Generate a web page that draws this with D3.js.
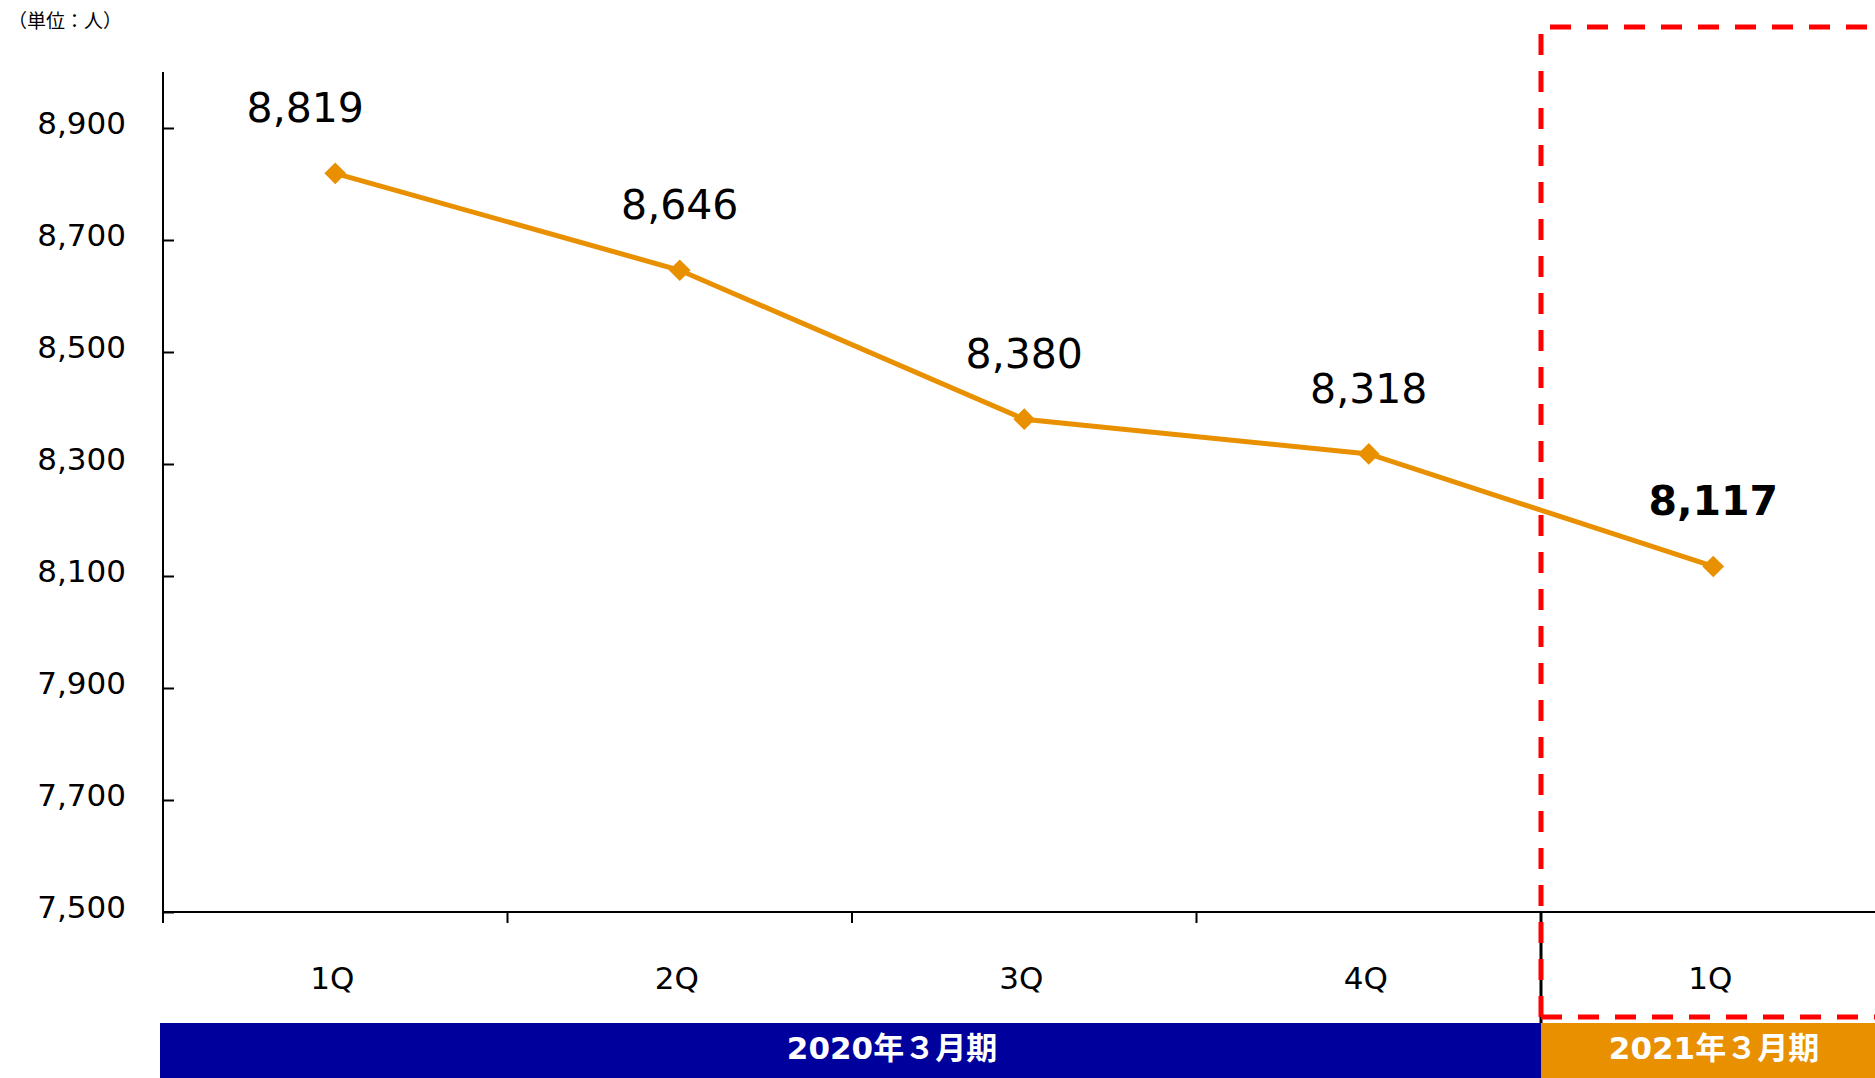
<!DOCTYPE html>
<html>
<head>
<meta charset="utf-8">
<script src="https://cdn.jsdelivr.net/npm/d3@7"></script>
<style>
  html, body { margin: 0; padding: 0; background: #fff; }
  svg { display: block; }
  text { font-family: "DejaVu Sans", Verdana, "Noto Sans CJK JP", sans-serif; }
</style>
</head>
<body>
<svg id="chart" width="1875" height="1078"></svg>
<script>
// data
const quarters = ['1Q', '2Q', '3Q', '4Q', '1Q'];
const staff = [8819, 8646, 8380, 8318, 8117];
const yTicks = [7500, 7700, 7900, 8100, 8300, 8500, 8700, 8900];
const periods = ['2020年３月期', '2021年３月期'];
const periodSpan = [4, 1]; // quarters per fiscal period
const unitLabel = '（単位：人）';

const ORANGE = '#E99000';
const NAVY = '#00009C';

const svg = d3.select('#chart');

const left = 163;
const bandW = 344.5;
const x = d3.scaleBand()
    .domain(quarters.map((d, i) => i))
    .range([left, left + bandW * quarters.length])
    .padding(0);
const y = d3.scaleLinear().domain([7500, 9000]).range([912, 72]);

// unit label
svg.append('text')
    .attr('x', 8)
    .attr('y', 28)
    .style('font-family', '"Noto Sans CJK JP", sans-serif')
    .style('font-size', '19px')
    .text(unitLabel);

// y axis
const yAxis = d3.axisRight(y).tickValues(yTicks).tickSize(11).tickFormat(() => '');
const gy = svg.append('g').attr('transform', `translate(${left},0)`).call(yAxis);
gy.select('.domain').remove();
gy.selectAll('line').attr('stroke', '#000').attr('stroke-width', 2);
svg.append('line')
    .attr('x1', left).attr('x2', left)
    .attr('y1', y(9000)).attr('y2', 923)
    .attr('stroke', '#000').attr('stroke-width', 2);

svg.append('g').selectAll('text')
    .data(yTicks)
    .join('text')
    .attr('x', 126)
    .attr('y', d => y(d) + 6)
    .attr('text-anchor', 'end')
    .style('font-size', '31px')
    .text(d => d3.format(',')(d));

// x axis line and tick marks
svg.append('line')
    .attr('x1', left).attr('x2', 1875)
    .attr('y1', y(7500)).attr('y2', y(7500))
    .attr('stroke', '#000').attr('stroke-width', 2);

const boundaries = d3.range(1, quarters.length).map(i => x(i));
svg.append('g').selectAll('line')
    .data(boundaries)
    .join('line')
    .attr('x1', d => d).attr('x2', d => d)
    .attr('y1', y(7500))
    .attr('y2', (d, i) => i === periodSpan[0] - 1 ? 1023 : y(7500) + 11)
    .attr('stroke', '#000')
    .attr('stroke-width', (d, i) => i === periodSpan[0] - 1 ? 3 : 2);

svg.append('g').selectAll('text')
    .data(quarters)
    .join('text')
    .attr('x', (d, i) => x(i) + x.bandwidth() / 2 - 3)
    .attr('y', 989)
    .attr('text-anchor', 'middle')
    .style('font-size', '31px')
    .text(d => d);

// fiscal period bars
let start = 0;
const periodRows = periods.map((p, i) => {
  const row = {label: p, x0: x(start), x1: x(start + periodSpan[i] - 1) + x.bandwidth(), i};
  start += periodSpan[i];
  return row;
});
periodRows[0].x0 = 160;

const pg = svg.append('g');
pg.selectAll('rect')
    .data(periodRows)
    .join('rect')
    .attr('x', d => d.x0)
    .attr('y', 1023)
    .attr('width', d => Math.min(d.x1, 1875) - d.x0)
    .attr('height', 55)
    .attr('fill', d => d.i === 0 ? NAVY : ORANGE);
pg.selectAll('text')
    .data(periodRows)
    .join('text')
    .attr('x', d => d.i === 0 ? 892 : (d.x0 + Math.min(d.x1, 1875)) / 2 + 6)
    .attr('y', 1059)
    .attr('text-anchor', 'middle')
    .attr('fill', '#fff')
    .style('font-weight', 'bold')
    .style('font-size', '31px')
    .text(d => d.label);

// red dashed highlight around latest quarter
const hx = x(periodSpan[0]);
svg.append('path')
    .attr('d', `M${hx},1017 L${hx},27 L1890,27`)
    .attr('fill', 'none')
    .attr('stroke', '#FF0000')
    .attr('stroke-width', 5)
    .attr('stroke-dasharray', '21,16');
svg.append('path')
    .attr('d', `M${hx},1017 L1890,1017`)
    .attr('fill', 'none')
    .attr('stroke', '#FF0000')
    .attr('stroke-width', 5)
    .attr('stroke-dasharray', '21,16');

// line
const line = d3.line()
    .x((d, i) => x(i) + x.bandwidth() / 2)
    .y(d => y(d));
svg.append('path')
    .datum(staff)
    .attr('d', line)
    .attr('fill', 'none')
    .attr('stroke', ORANGE)
    .attr('stroke-width', 5);

svg.append('g').selectAll('path')
    .data(staff)
    .join('path')
    .attr('transform', (d, i) => `translate(${x(i) + x.bandwidth() / 2},${y(d)})`)
    .attr('d', d3.symbol(d3.symbolDiamond2, 300))
    .attr('fill', ORANGE);

// data labels
svg.append('g').selectAll('text')
    .data(staff)
    .join('text')
    .attr('x', (d, i) => x(i) + x.bandwidth() / 2 - (i === 0 ? 30 : 0))
    .attr('y', d => y(d) - 51)
    .attr('text-anchor', 'middle')
    .style('font-size', '41px')
    .style('font-weight', (d, i) => i === staff.length - 1 ? 'bold' : 'normal')
    .text(d => d3.format(',')(d));
</script>
</body>
</html>
